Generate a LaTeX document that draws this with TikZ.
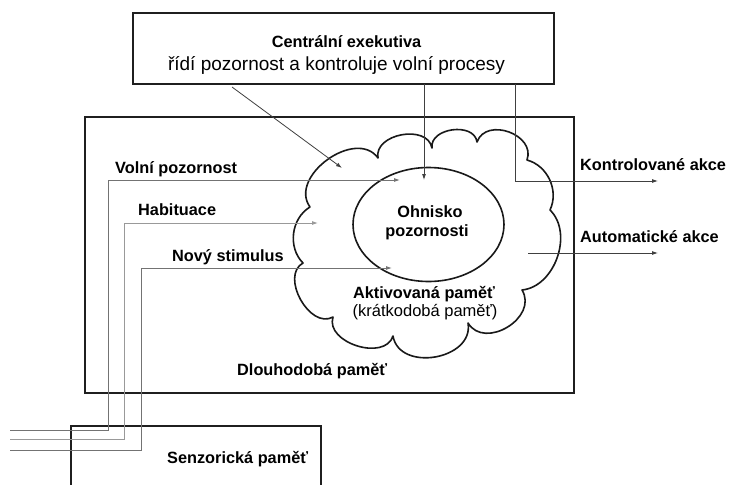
\documentclass[tikz,border=0pt]{standalone}
\usepackage{fontspec}
\setmainfont{Liberation Sans}
\usetikzlibrary{shapes.geometric,arrows.meta}
\begin{document}
\begin{tikzpicture}[x=1pt,y=-1pt,
  box/.style={draw=black!88,line width=1.8pt,inner sep=0pt},
  lbl/.style={font=\fontsize{16.3}{19}\selectfont\bfseries,inner sep=0pt,anchor=base west},
  ctr/.style={font=\fontsize{16.3}{19}\selectfont\bfseries,inner sep=0pt,anchor=base},
  ctrreg/.style={font=\fontsize{16.5}{19}\selectfont,inner sep=0pt,anchor=base},
  conn/.style={draw=black!75,line width=0.8pt},
  inln/.style={draw=black!55,line width=0.9pt},
  inlnlight/.style={draw=black!40,line width=0.9pt},
  tip/.style={-{Latex[length=6pt,width=4pt]}},
  cloudln/.style={draw=black!90,line width=1.6pt,line join=round}
]
\useasboundingbox (0,0) rectangle (729,485);
\clip (0,0) rectangle (729,485);
\fill[white] (0,0) rectangle (729,485);

% boxes
\node[box,minimum width=421pt,minimum height=71pt] (exec) at (343.5,48.5) {};
\node[box,minimum width=489pt,minimum height=276pt] (ltm) at (329.5,255) {};
\node[box,minimum width=250pt,minimum height=100pt] (sens) at (196,476) {};

% cloud
\coordinate (c1) at (310,207);
\coordinate (c2) at (378,158);
\coordinate (c3) at (432,148);
\coordinate (c4) at (477,142);
\coordinate (c5) at (527,160);
\coordinate (c6) at (550,210);
\coordinate (c7) at (522,290);
\coordinate (c8) at (468,323);
\coordinate (c9) at (393,336);
\coordinate (c10) at (333,317);
\coordinate (c11) at (303,263);
\draw[cloudln] (c1) to[bend left=90,looseness=1.15] (c2)
  to[bend left=90,looseness=1.15] (c3)
  to[bend left=90,looseness=1.15] (c4)
  to[bend left=90,looseness=1.3] (c5)
  to[bend left=50] (c6)
  to[bend left=65] (c7)
  to[bend left=90,looseness=1.3] (c8)
  to[bend left=90,looseness=1.25] (c9)
  to[bend left=90,looseness=1.1] (c10)
  to[bend left=90,looseness=1.1] (c11)
  to[bend left=52] (c1) -- cycle;

% focus ellipse
\node[ellipse,draw=black!90,line width=1.6pt,minimum width=151pt,minimum height=114pt,inner sep=0pt] (focus) at (428.5,224.5) {};

% texts
\node[ctr] (tex1) at (346.5,47) {Centrální exekutiva};
\node[font=\fontsize{19}{22}\selectfont,inner sep=0pt,anchor=base] (tex2) at (336.5,70) {řídí pozornost a kontroluje volní procesy};
\node[lbl] (lvol) at (115,173) {Volní pozornost};
\node[lbl] (lhab) at (138,215) {Habituace};
\node[lbl] (lnov) at (172,261) {Nový stimulus};
\node[ctr] (lf1) at (430,217) {Ohnisko};
\node[ctr] (lf2) at (427,236) {pozornosti};
\node[ctr] (lak1) at (424,298) {Aktivovaná paměť};
\node[ctrreg] (lak2) at (425,316) {(krátkodobá paměť)};
\node[lbl] (lltm) at (237,375) {Dlouhodobá paměť};
\node[lbl] (lsen) at (167,463) {Senzorická paměť};
\node[lbl] (lkon) at (580,170) {Kontrolované akce};
\node[lbl] (laut) at (580,242) {Automatické akce};

% input lines
\coordinate (inA) at (10,430);
\coordinate (inB) at (10,439);
\coordinate (inC) at (10,450);
\coordinate (bA) at (108,180);
\coordinate (bB) at (124,223);
\coordinate (bC) at (141,268);
\coordinate (tA) at (400,180);
\coordinate (tB) at (318,223);
\coordinate (tC) at (392,268);
\draw[inln,tip] (inA) -| (bA) -- (tA);
\draw[inlnlight,tip] (inB) -| (bB) -- (tB);
\draw[inln,tip] (inC) -| (bC) -- (tC);

% executive connectors
\coordinate (e1) at (232,87);
\coordinate (e1t) at (342,168);
\coordinate (e2) at (424,84);
\coordinate (e2t) at (424,180);
\coordinate (e3) at (515,84);
\coordinate (e3b) at (515,181);
\coordinate (e3t) at (658,181);
\coordinate (a1) at (528,253);
\coordinate (a1t) at (658,253);
\draw[conn,tip] (e1) -- (e1t);
\draw[conn,tip] (e2) -- (e2t);
\draw[conn,tip] (e3) -- (e3b) -- (e3t);
\draw[conn,tip] (a1) -- (a1t);
\end{tikzpicture}
\end{document}
